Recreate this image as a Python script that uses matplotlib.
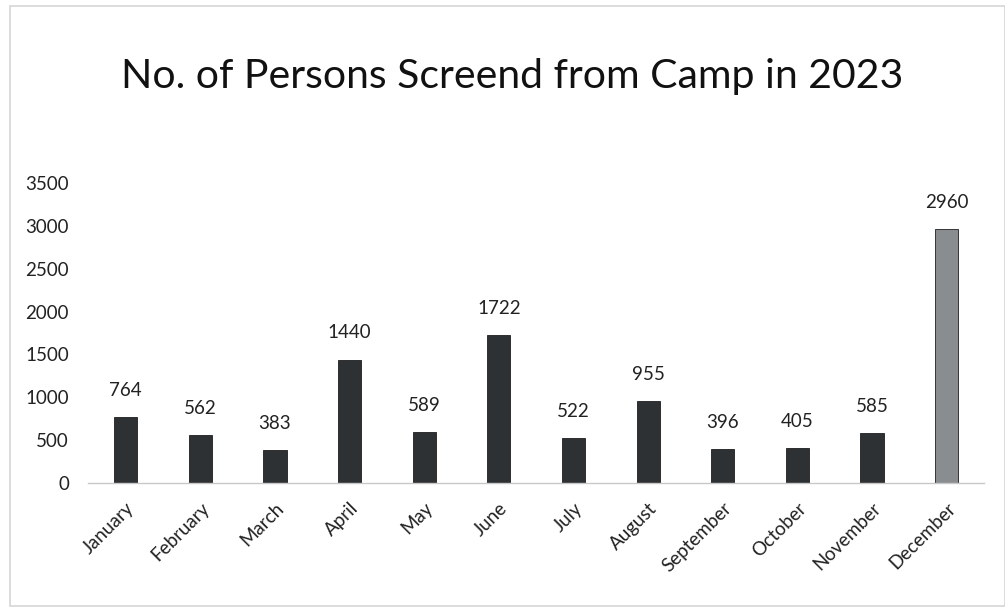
import matplotlib
matplotlib.use("Agg")
import matplotlib.pyplot as plt
from matplotlib.patches import Rectangle

months = ["January", "February", "March", "April", "May", "June", "July",
          "August", "September", "October", "November", "December"]
persons = [764, 562, 383, 1440, 589, 1722, 522, 955, 396, 405, 585, 2960]
bar_colors = ["#2e3133"] * 11 + ["#8a8d8f"]
yticks = [0, 500, 1000, 1500, 2000, 2500, 3000, 3500]

plt.rcParams['font.family'] = ['Lato', 'DejaVu Sans']

fig = plt.figure(figsize=(10.05, 6.15), dpi=100)
ax = fig.add_axes([0.088, 0.215, 0.891, 0.487])

x = range(len(months))
bars = ax.bar(x, persons, width=0.31, color=bar_colors, edgecolor="#1e1e1e", linewidth=0.6)
for xi, v in zip(x, persons):
    ax.annotate(str(v), (xi, v), xytext=(0, 13), textcoords="offset points",
                ha="center", va="bottom", fontsize=13.5, color="#222222")

ax.set_xlim(-0.5, len(months) - 0.5)
ax.set_ylim(0, 3500)
ax.set_yticks(yticks)
ax.set_yticklabels([str(t) for t in yticks], fontsize=13.5, color="#222222")
ax.set_xticks(list(x))
ax.set_xticklabels(months, rotation=45, ha="right", rotation_mode="anchor",
                   fontsize=13.5, color="#222222")
ax.tick_params(axis="y", length=0, pad=14)
ax.tick_params(axis="x", length=0, pad=12)
for s in ["top", "right", "left"]:
    ax.spines[s].set_visible(False)
ax.spines["bottom"].set_color("#c8c8c8")
ax.spines["bottom"].set_linewidth(1.0)

fig.text(0.51, 0.875, "No. of Persons Screend from Camp in 2023", ha="center",
         va="center", fontsize=29.5, color="#111111")

fig.patches.append(Rectangle((0.01, 0.015), 0.99, 0.975, transform=fig.transFigure,
                             fill=False, edgecolor="#d6d6d6", linewidth=1.2))

fig.savefig("out.png", dpi=100, facecolor="white")
